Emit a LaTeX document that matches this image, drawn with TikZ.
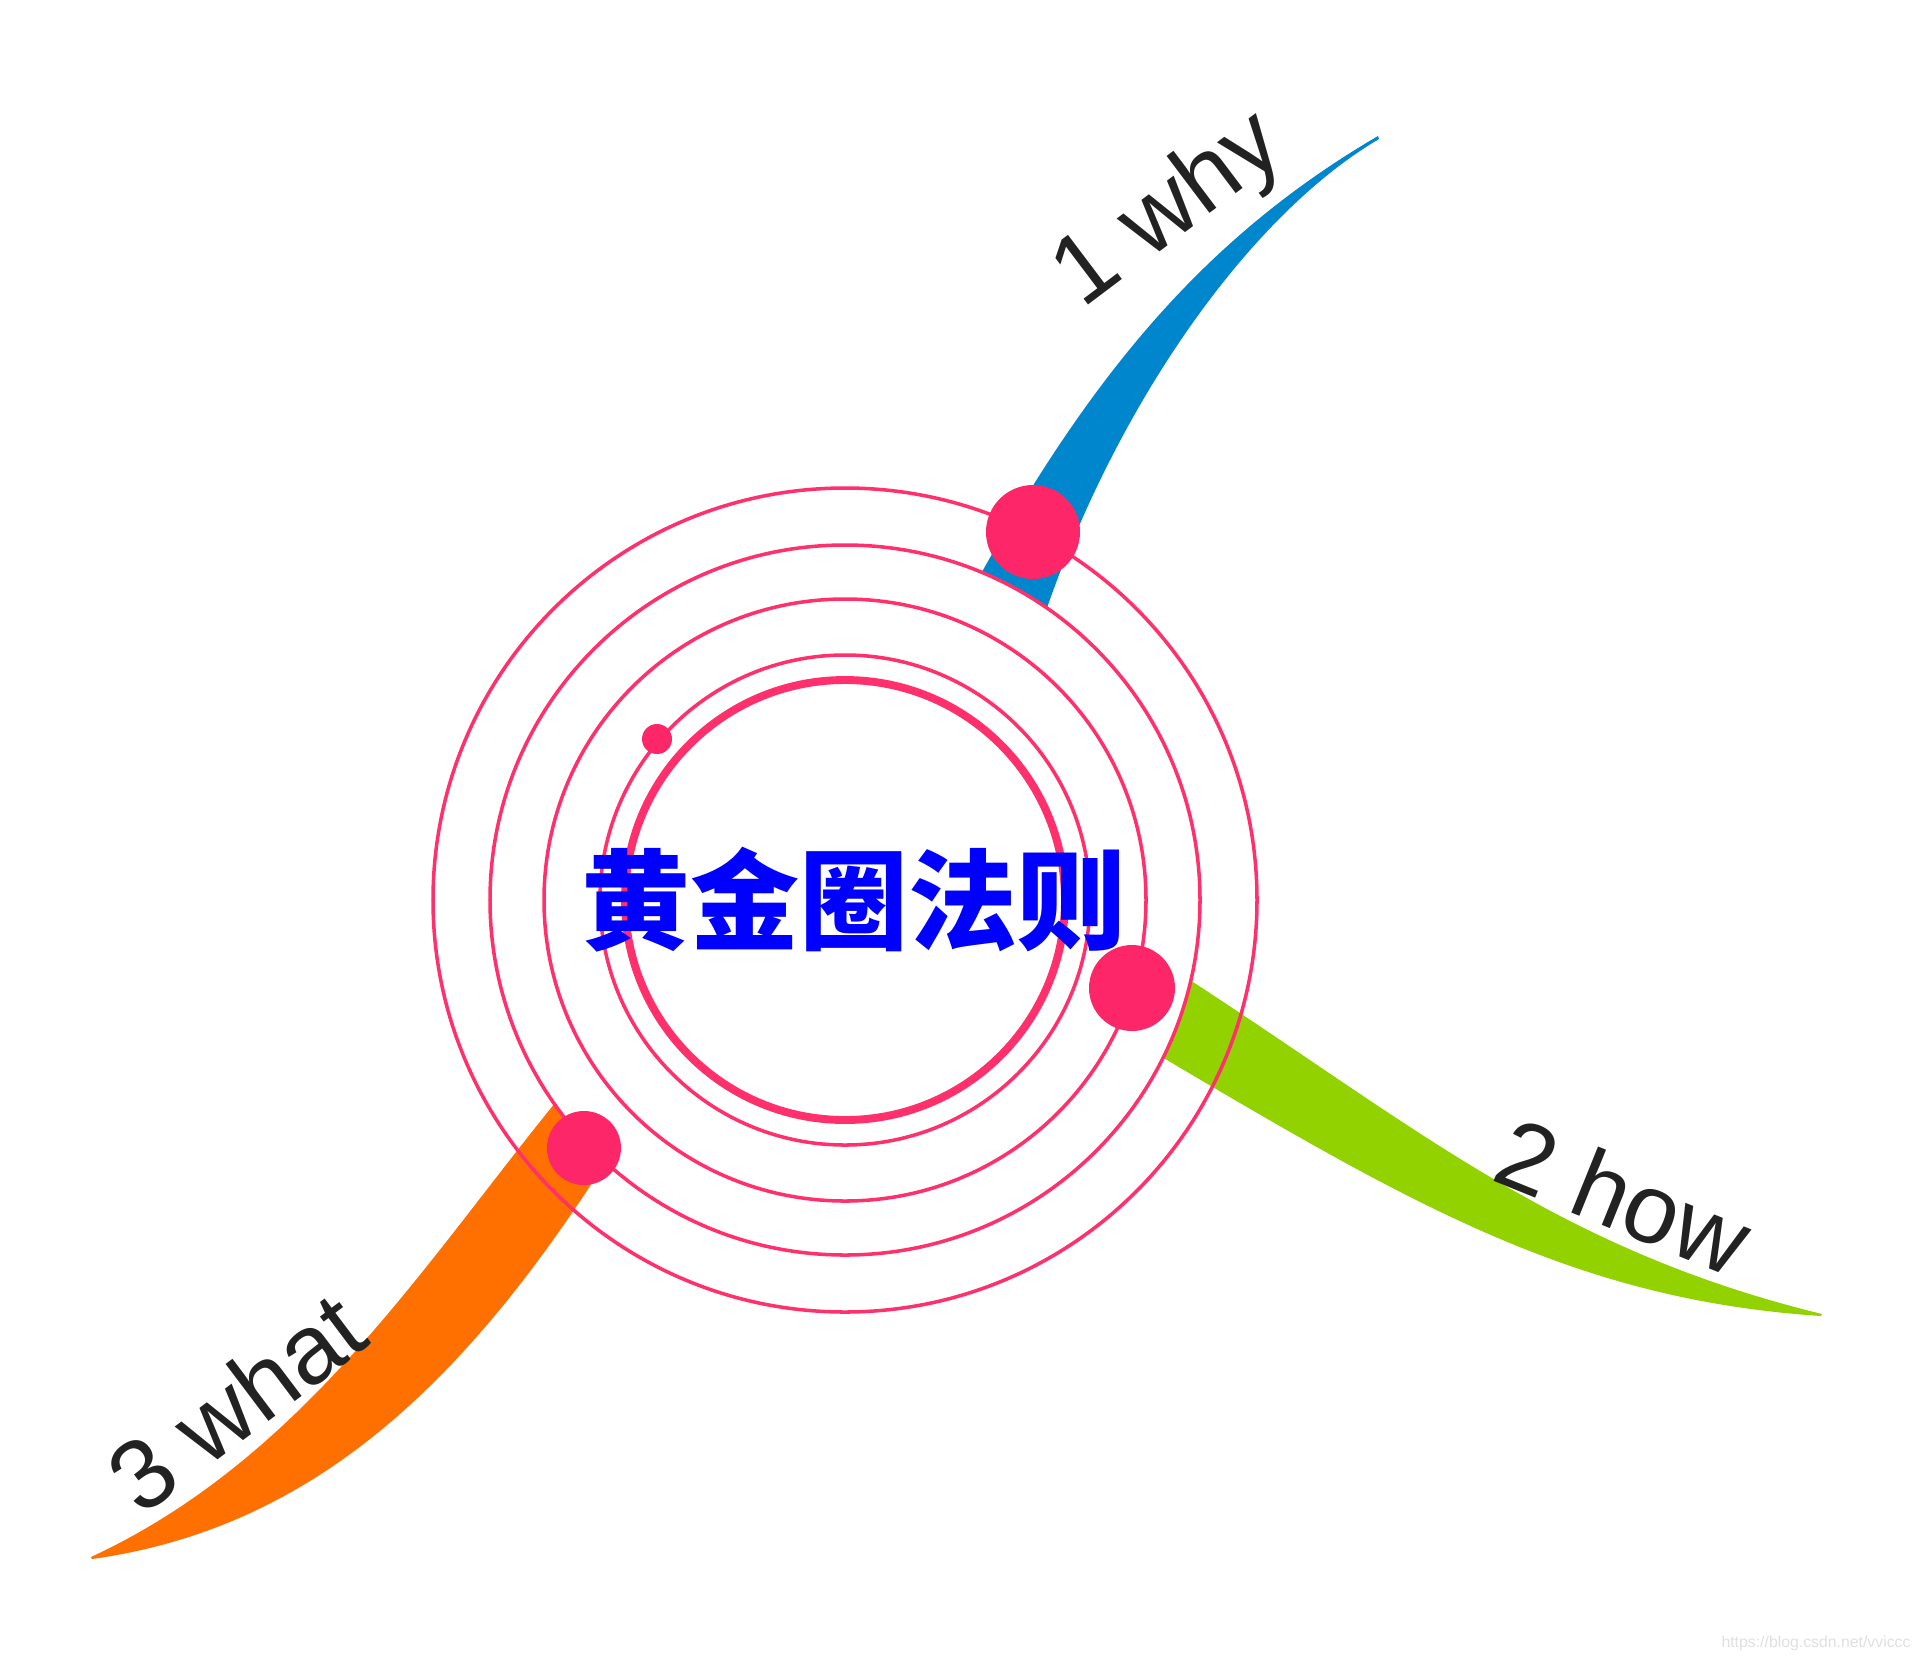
\documentclass[tikz,border=0pt]{standalone}
\usepackage{fontspec}
\setmainfont{Liberation Sans}
\newfontfamily\cjk{Noto Sans CJK SC}
\definecolor{ringred}{RGB}{255,48,108}
\definecolor{dotred}{RGB}{252,38,104}
\definecolor{whyblue}{RGB}{0,134,204}
\definecolor{howgreen}{RGB}{146,210,0}
\definecolor{whatorange}{RGB}{255,112,0}
\definecolor{labelgray}{RGB}{34,34,34}

\begin{document}
\begin{tikzpicture}[x=0.02cm, y=-0.02cm,
  ring/.style={draw=ringred, line width=2pt},
  branchlabel/.style={text=labelgray, font=\fontsize{56}{60}\selectfont, inner sep=0pt}]
  \fill[white] (0,0) rectangle (1920,1661);
  \useasboundingbox (0,0) rectangle (1920,1661);
  \coordinate (c) at (845,900);

  % 1 why 分支
  \fill[whyblue] (950,630) -- (983,570) .. controls (1090,380) and (1200,240) .. (1378,136)
    -- (1379,139) .. controls (1250,215) and (1120,400) .. (1048,605) -- (1025,665) -- cycle;

  % 2 how 分支
  \fill[howgreen] (1140,945) -- (1193,982) .. controls (1420,1130) and (1560,1250) .. (1822,1314)
    -- (1821,1316) .. controls (1580,1300) and (1420,1210) .. (1167,1060) -- (1115,1030) -- cycle;

  % 3 what 分支
  \fill[whatorange] (590,1060) -- (551,1108) .. controls (420,1270) and (300,1460) .. (91,1557)
    -- (92,1559) .. controls (300,1530) and (450,1400) .. (592,1183) -- (640,1120) -- cycle;

  % 圆环
  \fill[white] (c) circle (356);
  \draw[ring] (c) circle (412);
  \draw[ring] (c) circle (355);
  \draw[ring] (c) circle (301);
  \draw[ring] (c) circle (245);
  \draw[ring, line width=4.5pt] (c) circle (220);

  % 圆点
  \fill[dotred] (1033,532) circle (47);
  \fill[dotred] (1132,988) circle (43);
  \fill[dotred] (584,1148) circle (37);
  \fill[dotred] (657,739) circle (15);

  % 文字
  \node[text=blue, inner sep=0pt, font=\cjk\bfseries\fontsize{62}{66}\selectfont] (title) at (854,900) {黄金圈法则};
  \node[branchlabel, rotate=37] (why) at (1170,212) {1 why};
  \node[branchlabel, rotate=-22] (how) at (1624,1196) {2 how};
  \node[branchlabel, rotate=37] (what) at (236,1402) {3 what};
  \node[text=black!12, font=\fontsize{9}{10}\selectfont, inner sep=0pt] (mark) at (1816,1643) {https://blog.csdn.net/vviccc};
\end{tikzpicture}
\end{document}
